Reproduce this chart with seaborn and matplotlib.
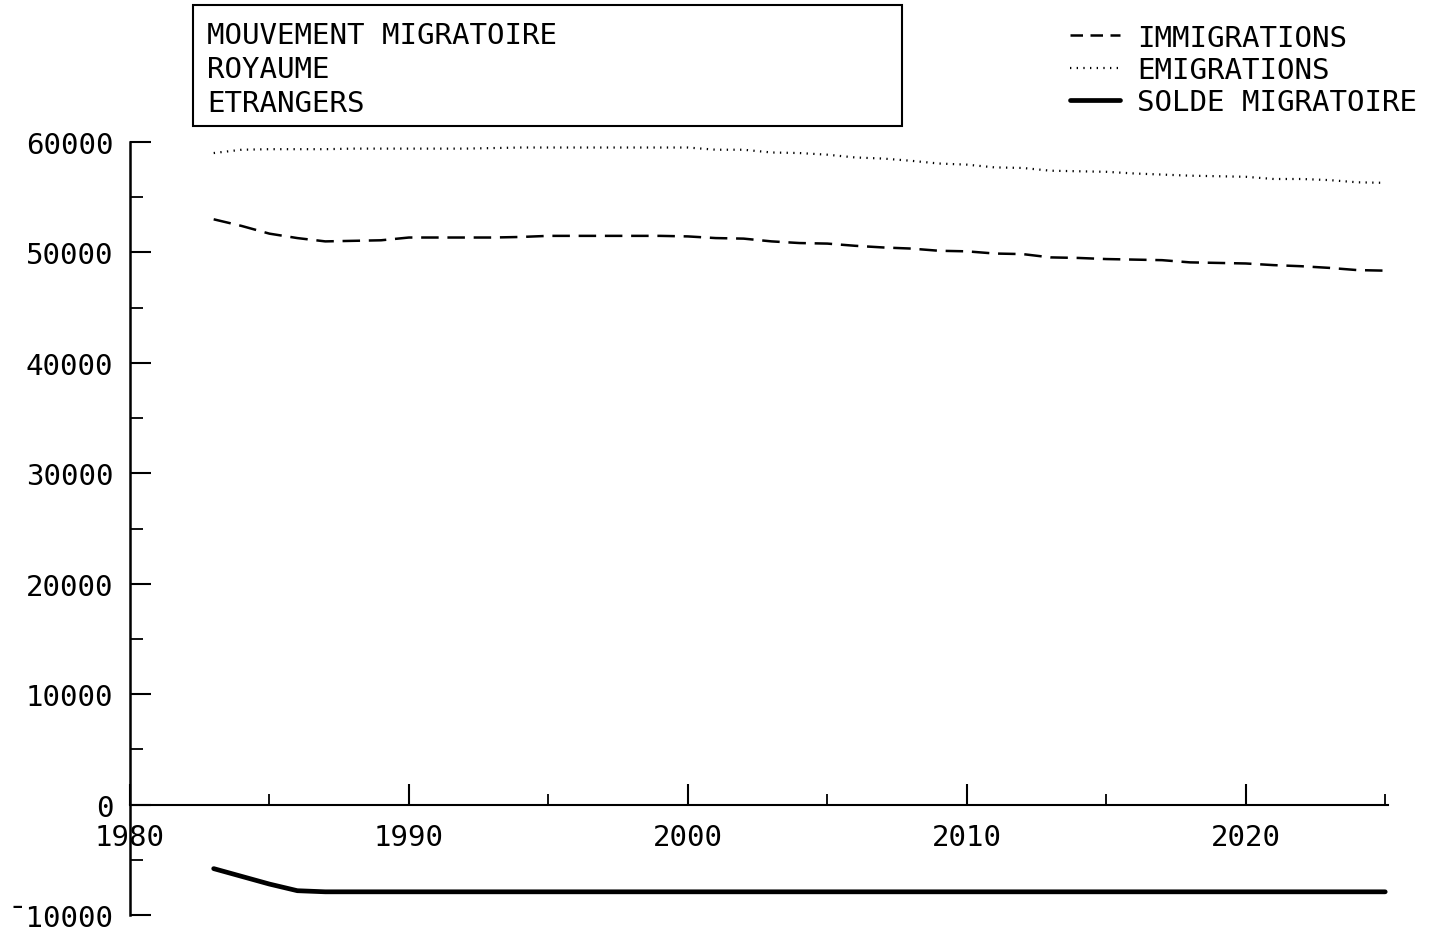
import matplotlib
matplotlib.use("Agg")
import matplotlib.pyplot as plt
import matplotlib.patches as mpatches
from matplotlib.lines import Line2D
from matplotlib.ticker import MultipleLocator, FixedLocator
import seaborn as sns
import pandas as pd

# Annual migration flows, foreigners, whole kingdom
years = list(range(1983, 2026))
immigrations = [
    53000, 52400, 51700, 51300, 51000, 51050, 51100, 51350, 51350, 51350,
    51350, 51400, 51500, 51500, 51500, 51500, 51500, 51450, 51300, 51250,
    51000, 50850, 50800, 50600, 50450, 50350, 50150, 50100, 49900, 49850,
    49550, 49500, 49400, 49350, 49300, 49100, 49050, 49000, 48850, 48750,
    48600, 48400, 48350,
]
emigrations = [
    59000, 59300, 59350, 59350, 59350, 59400, 59400, 59400, 59400, 59400,
    59450, 59500, 59500, 59500, 59500, 59500, 59500, 59500, 59300, 59300,
    59050, 59000, 58850, 58600, 58500, 58300, 58050, 57950, 57700, 57650,
    57400, 57350, 57300, 57150, 57050, 56950, 56900, 56850, 56650, 56650,
    56550, 56350, 56300,
]
solde = [-5800, -6500, -7200, -7800] + [-7900] * (len(years) - 4)

title_lines = ["MOUVEMENT MIGRATOIRE", "ROYAUME", "ETRANGERS"]
series_labels = ["IMMIGRATIONS", "EMIGRATIONS", "SOLDE MIGRATOIRE"]
y_major = [-10000, 0, 10000, 20000, 30000, 40000, 50000, 60000]
y_labels = ["¯10000", "0", "10000", "20000", "30000", "40000", "50000", "60000"]
x_major = [1980, 1990, 2000, 2010, 2020]
x_labels = ["1980", "1990", "2000", "2010", "2020"]

df = pd.DataFrame({
    "annee": years,
    "immigrations": immigrations,
    "emigrations": emigrations,
    "solde": solde,
})

sns.set_style("ticks", {"axes.edgecolor": "black", "text.color": "black",
                        "xtick.color": "black", "ytick.color": "black"})
mono = ["DejaVu Sans Mono", "Liberation Mono"]
plt.rcParams["font.family"] = mono
FS = 21

W, H = 1433, 937
fig = plt.figure(figsize=(W / 100, H / 100), dpi=100)
ax = fig.add_axes([130 / W, 1 - 916 / H, (1388 - 130) / W, (916 - 143) / H])

sns.lineplot(data=df, x="annee", y="immigrations", ax=ax, color="black",
             linewidth=1.8, linestyle=(0, (7, 3.5)))
sns.lineplot(data=df, x="annee", y="emigrations", ax=ax, color="black",
             linewidth=1.6, linestyle=(0, (0.6, 2.4)))
sns.lineplot(data=df, x="annee", y="solde", ax=ax, color="black",
             linewidth=3.4, linestyle="-")

ax.set_xlim(1980, 2025.1)
ax.set_ylim(-10000, 60000)
ax.set_xlabel("")
ax.set_ylabel("")

for s in ["top", "right"]:
    ax.spines[s].set_visible(False)
ax.spines["bottom"].set_position(("data", 0))
ax.spines["left"].set_linewidth(1.8)
ax.spines["bottom"].set_linewidth(1.5)

ax.yaxis.set_major_locator(FixedLocator(y_major))
ax.set_yticklabels(y_labels)
ax.yaxis.set_minor_locator(MultipleLocator(5000))
ax.xaxis.set_major_locator(FixedLocator(x_major))
ax.set_xticklabels(x_labels)
ax.xaxis.set_minor_locator(FixedLocator([1985, 1995, 2005, 2015, 2025]))

ax.tick_params(axis="both", which="both", left=True, bottom=True,
               colors="black", labelcolor="black")
ax.tick_params(axis="y", which="major", direction="in", length=15, width=1.5,
               labelsize=FS, pad=12)
ax.tick_params(axis="y", which="minor", direction="in", length=9, width=1.3)
ax.tick_params(axis="x", which="major", direction="in", length=15, width=1.5,
               labelsize=FS, pad=13)
ax.tick_params(axis="x", which="minor", direction="in", length=8, width=1.3)

# Title block in its frame
fig.patches.append(mpatches.Rectangle(
    (193 / W, 1 - 127 / H), (902 - 193) / W, (127 - 6) / H,
    transform=fig.transFigure, fill=False, edgecolor="black", linewidth=1.5))
for i, line in enumerate(title_lines):
    fig.text(207 / W, 1 - (36 + 34 * i) / H, line, fontsize=FS, color="black",
             ha="left", va="center", family=mono)

# Key for the three series
handles = [
    Line2D([], [], color="black", linewidth=1.8, linestyle=(0, (5, 3))),
    Line2D([], [], color="black", linewidth=1.6, linestyle=(0, (0.6, 2.4))),
    Line2D([], [], color="black", linewidth=3.4, linestyle="-"),
]
leg = fig.legend(handles, series_labels, loc="upper right",
                 bbox_to_anchor=(1432 / W, 1 - 10 / H), frameon=False,
                 prop={"family": mono, "size": FS}, handlelength=1.7,
                 handletextpad=0.6, labelspacing=0.15, borderpad=0.0)
for t in leg.get_texts():
    t.set_color("black")

fig.savefig("out.png", dpi=100, facecolor="white")
